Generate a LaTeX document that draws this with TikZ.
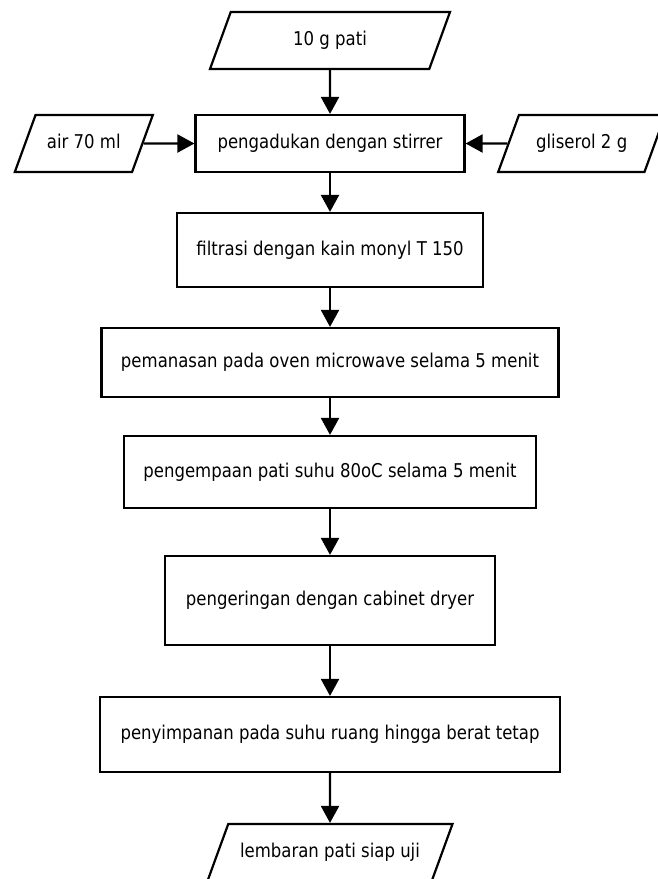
\documentclass[tikz,border=0pt]{standalone}
\usepackage{fontspec}
\setmainfont{DejaVu Sans}[FakeStretch=0.87]
\usepackage{tikz}
\usetikzlibrary{arrows.meta, positioning, shapes.geometric}

\begin{document}
\begin{tikzpicture}[
        x=1pt, y=-1pt,
        every node/.style={draw, line width=2.2pt, font=\fontsize{19}{22}\selectfont, inner sep=2pt},
        proses/.style={rectangle, minimum height=57pt},
        bahan/.style={trapezium, trapezium left angle=70, trapezium right angle=110,
            trapezium stretches body, text height=14pt, text depth=4pt, inner ysep=19.5pt},
        panah/.style={line width=2.2pt, -{Triangle[length=17pt, width=18pt]}}
    ]
        \useasboundingbox (0,0) rectangle (657,879);

        % Bahan awal dan pengadukan
        \node [bahan, minimum width=240pt] (pati) at (330,40.5) {10 g pati};
        \node [proses, minimum width=269pt, below=43.8pt of pati] (aduk) {pengadukan dengan stirrer};
        \node [bahan, minimum width=138pt, left=50.8pt of aduk] (air) {air 70 ml};
        \node [bahan, minimum width=167pt, right=41.8pt of aduk] (gliserol) {gliserol 2 g};

        % Tahapan proses
        \node [proses, minimum width=306pt, minimum height=74pt, below=38.8pt of aduk] (filtrasi) {filtrasi dengan kain monyl T 150};
        \node [proses, minimum width=457pt, minimum height=69pt, below=38.8pt of filtrasi] (panas) {pemanasan pada oven microwave selama 5 menit};
        \node [proses, minimum width=412pt, minimum height=72pt, below=36.8pt of panas] (kempa) {pengempaan pati suhu 80oC selama 5 menit};
        \node [proses, minimum width=330pt, minimum height=89pt, below=45.8pt of kempa] (kering) {pengeringan dengan cabinet dryer};
        \node [proses, minimum width=460pt, minimum height=75pt, below=49.8pt of kering] (simpan) {penyimpanan pada suhu ruang hingga berat tetap};
        \node [bahan, minimum width=245pt, below=49.8pt of simpan] (lembaran) {lembaran pati siap uji};

        % Panah
        \draw [panah] (pati) -- (aduk);
        \draw [panah] (air) -- (aduk);
        \draw [panah] (gliserol) -- (aduk);
        \draw [panah] (aduk) -- (filtrasi);
        \draw [panah] (filtrasi) -- (panas);
        \draw [panah] (panas) -- (kempa);
        \draw [panah] (kempa) -- (kering);
        \draw [panah] (kering) -- (simpan);
        \draw [panah] (simpan) -- (lembaran);
\end{tikzpicture}
\end{document}
